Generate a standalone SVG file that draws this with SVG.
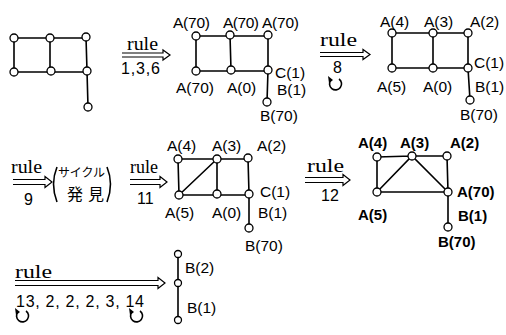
<svg xmlns="http://www.w3.org/2000/svg" width="506" height="335" viewBox="0 0 506 335">
<style>
.e{stroke:#000;stroke-width:1.6;fill:none}
.n{fill:#fff;stroke:#000;stroke-width:1.3}
.t{font-family:"Liberation Sans",Arial,sans-serif;font-size:15.5px;fill:#000}
.tb{font-family:"Liberation Sans",Arial,sans-serif;font-size:15px;fill:#000;font-weight:bold}
.r{font-family:"Liberation Serif","Times New Roman",serif;font-size:19px;fill:#000}
.num{font-family:"Liberation Sans",Arial,sans-serif;font-size:16px;fill:#000}
.jp{font-family:"Noto Sans CJK JP",sans-serif;fill:#000}
.ar{stroke:#000;stroke-width:1.2;fill:#fff}
.lp{stroke:#000;stroke-width:1.6;fill:none}
</style>

<!-- Graph 1 -->
<g id="graph1">
<path class="e" d="M14,38 H86 M14,72 H87 M14,38 V72 M50,38 V71 M86,37 L87,71 L88,107"/>
<circle class="n" cx="14" cy="38" r="4"/><circle class="n" cx="50" cy="38" r="4"/><circle class="n" cx="86" cy="37" r="4"/>
<circle class="n" cx="14" cy="72" r="4"/><circle class="n" cx="51" cy="71" r="4"/><circle class="n" cx="87" cy="71" r="4"/>
<circle class="n" cx="88" cy="107" r="4"/>
</g>

<!-- Arrow 1 -->
<g id="arrow1">
<text class="r" x="127" y="50" textLength="31" lengthAdjust="spacingAndGlyphs">rule</text>
<path class="ar" d="M122,53 H163 V50 L170,55 L163,60 V57 H122"/>
<text class="num" x="121" y="74" textLength="39">1,3,6</text>
</g>

<!-- Graph 2 -->
<g id="graph2">
<path class="e" d="M196,36 H268 M196,71 H268 M196,36 V71 M230,35 L231,70 M268,35 V70 L267,102"/>
<circle class="n" cx="196" cy="36" r="4"/><circle class="n" cx="230" cy="35" r="4"/><circle class="n" cx="268" cy="35" r="4"/>
<circle class="n" cx="196" cy="71" r="4"/><circle class="n" cx="231" cy="70" r="4"/><circle class="n" cx="268" cy="70" r="4"/>
<circle class="n" cx="267" cy="102" r="4"/>
<text class="t" x="173" y="28" textLength="37">A(70)</text>
<text class="t" x="223" y="28" textLength="36">A(70)</text>
<text class="t" x="262" y="28" textLength="37">A(70)</text>
<text class="t" x="176" y="93" textLength="38">A(70)</text>
<text class="t" x="227" y="93">A(0)</text>
<text class="t" x="275" y="78">C(1)</text>
<text class="t" x="277" y="95">B(1)</text>
<text class="t" x="260" y="121">B(70)</text>
</g>

<!-- Arrow 2 -->
<g id="arrow2">
<text class="r" x="320" y="46" textLength="37" lengthAdjust="spacingAndGlyphs">rule</text>
<path class="ar" d="M320,52.5 H363 V49.5 L370,54.5 L363,59.5 V56.5 H320"/>
<text class="num" x="333" y="73">8</text>
<path class="lp" d="M339,79 A6,6 0 1 1 331,80"/>
<path d="M328,76 L333,80 L329,83 Z" fill="#000"/>
</g>

<!-- Graph 3 -->
<g id="graph3">
<path class="e" d="M392,33 H468 M392,68 H468 M392,33 V68 M433,33 V68 M468,33 V68 L470,100"/>
<circle class="n" cx="392" cy="33" r="4"/><circle class="n" cx="433" cy="33" r="4"/><circle class="n" cx="468" cy="33" r="4"/>
<circle class="n" cx="392" cy="68" r="4"/><circle class="n" cx="433" cy="68" r="4"/><circle class="n" cx="468" cy="68" r="4"/>
<circle class="n" cx="470" cy="100" r="4"/>
<text class="t" x="380" y="27">A(4)</text>
<text class="t" x="424" y="27">A(3)</text>
<text class="t" x="470" y="27">A(2)</text>
<text class="t" x="377" y="92">A(5)</text>
<text class="t" x="423" y="92">A(0)</text>
<text class="t" x="474" y="68">C(1)</text>
<text class="t" x="475" y="92">B(1)</text>
<text class="t" x="460" y="120">B(70)</text>
</g>

<!-- Arrow 9 -->
<g id="arrow9">
<text class="r" x="11" y="173" textLength="31" lengthAdjust="spacingAndGlyphs">rule</text>
<path class="ar" d="M13,179.5 H45 V176.5 L52,182 L45,187.5 V184.5 H13"/>
<text class="num" x="24" y="205">9</text>
<path class="lp" d="M57,167 Q50,184 57,202"/>
<text class="jp" x="58" y="177" font-size="12" textLength="47">サイクル</text>
<text class="jp" x="67" y="200" font-size="16" textLength="37">発見</text>
<path class="lp" d="M107,167 Q114,184 107,202"/>
</g>

<!-- Arrow 11 -->
<g id="arrow11">
<text class="r" x="130" y="173" textLength="28" lengthAdjust="spacingAndGlyphs">rule</text>
<path class="ar" d="M130,179.5 H160 V176.5 L167,182 L160,187.5 V184.5 H130"/>
<text class="num" x="137" y="204">11</text>
</g>

<!-- Graph 4 -->
<g id="graph4">
<path class="e" d="M178,159 H248 M179,195 H249 M178,159 L179,195 M217,159 V194 M248,158 L249,194 V228 M179,195 L217,159"/>
<circle class="n" cx="178" cy="159" r="4"/><circle class="n" cx="217" cy="159" r="4"/><circle class="n" cx="248" cy="158" r="4"/>
<circle class="n" cx="179" cy="195" r="4"/><circle class="n" cx="217" cy="194" r="4"/><circle class="n" cx="249" cy="194" r="4"/>
<circle class="n" cx="249" cy="228" r="4"/>
<text class="t" x="167" y="151">A(4)</text>
<text class="t" x="212" y="151">A(3)</text>
<text class="t" x="257" y="151">A(2)</text>
<text class="t" x="165" y="218">A(5)</text>
<text class="t" x="212" y="218">A(0)</text>
<text class="t" x="260" y="197">C(1)</text>
<text class="t" x="258" y="218">B(1)</text>
<text class="t" x="245" y="251">B(70)</text>
</g>

<!-- Arrow 12 -->
<g id="arrow12">
<text class="r" x="307" y="172" textLength="37" lengthAdjust="spacingAndGlyphs">rule</text>
<path class="ar" d="M305,177.5 H343 V174.5 L350,180 L343,185.5 V182.5 H305"/>
<text class="num" x="321" y="201">12</text>
</g>

<!-- Graph 5 -->
<g id="graph5">
<path class="e" d="M377,157 L412,156 L447,156 M377,157 V192 H448 M447,156 L448,192 V227 M377,192 L412,156 L448,192"/>
<circle class="n" cx="377" cy="157" r="4"/><circle class="n" cx="412" cy="156" r="4"/><circle class="n" cx="447" cy="156" r="4"/>
<circle class="n" cx="377" cy="192" r="4"/><circle class="n" cx="448" cy="192" r="4"/>
<circle class="n" cx="448" cy="227" r="4"/>
<text class="tb" x="358" y="148">A(4)</text>
<text class="tb" x="400" y="148">A(3)</text>
<text class="tb" x="450" y="148">A(2)</text>
<text class="tb" x="457" y="197">A(70)</text>
<text class="tb" x="358" y="220">A(5)</text>
<text class="tb" x="458" y="221">B(1)</text>
<text class="tb" x="438" y="247">B(70)</text>
</g>

<!-- Arrow 13 -->
<g id="arrow13">
<text class="r" x="15" y="278" textLength="37" lengthAdjust="spacingAndGlyphs">rule</text>
<path class="ar" d="M15,280.5 H158 V277.5 L165,283 L158,288.5 V285.5 H15"/>
<text class="num" x="16" y="307" textLength="128">13, 2, 2, 2, 3, 14</text>
<path class="lp" d="M26,311 A6,6 0 1 1 18,312"/>
<path d="M15,308 L20,312 L16,315 Z" fill="#000"/>
<path class="lp" d="M140,311 A6,6 0 1 1 132,312"/>
<path d="M129,308 L134,312 L130,315 Z" fill="#000"/>
</g>

<!-- Graph 6 -->
<g id="graph6">
<path class="e" d="M178,255 V320"/>
<circle class="n" cx="178" cy="254" r="3.5"/>
<circle class="n" cx="178" cy="283" r="3.5"/>
<circle class="n" cx="178" cy="320" r="3.5"/>
<text class="t" x="185" y="273">B(2)</text>
<text class="t" x="187" y="313">B(1)</text>
</g>
</svg>
